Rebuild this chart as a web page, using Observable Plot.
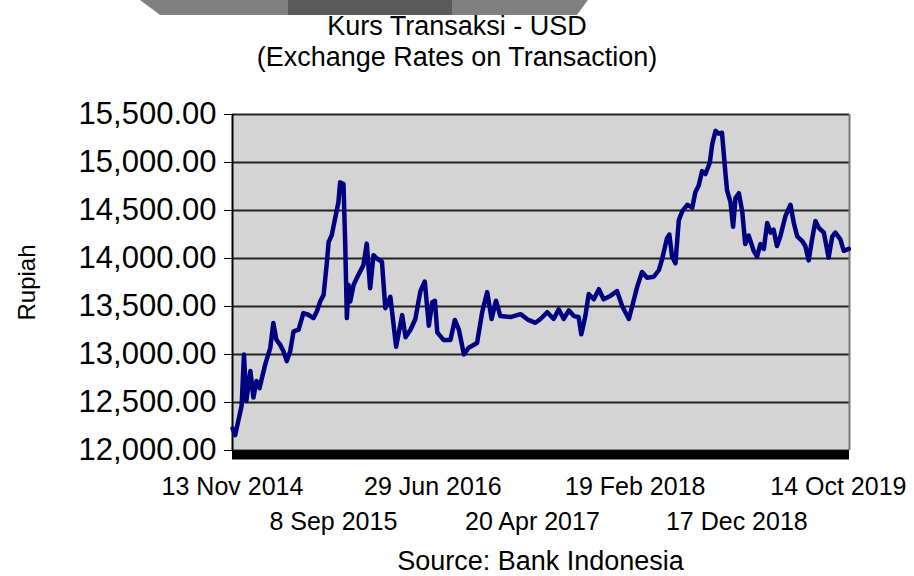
<!DOCTYPE html>
<html><head><meta charset="utf-8">
<script src="https://cdn.jsdelivr.net/npm/d3@7"></script>
<script src="https://cdn.jsdelivr.net/npm/@observablehq/plot@0.6"></script>
<style>
body{margin:0;background:#fff;font-family:"Liberation Sans",Arial,sans-serif;}
#wrap{position:relative;width:914px;height:576px;overflow:hidden;background:#fff;}
.banner{position:absolute;left:140px;top:0;width:448px;height:15px;background:#808080;clip-path:polygon(0 0,100% 0,97.5% 100%,4.5% 100%);}
.banner .mid{position:absolute;left:148px;top:0;width:164px;height:15px;background:#5a5a5a;}
.t{position:absolute;left:0;width:914px;text-align:center;font-size:27px;line-height:30px;color:#000;white-space:nowrap;}
#chart{position:absolute;left:0;top:80px;}
</style></head>
<body>
<div id="wrap">
  <div class="banner"><div class="mid"></div></div>
  <div class="t" style="top:11px">Kurs Transaksi - USD</div>
  <div class="t" style="top:42px">(Exchange Rates on Transaction)</div>
  <div id="chart"></div>
  <div class="t" style="top:546px;left:232px;width:617px">Source: Bank Indonesia</div>
</div>
<script>
const dates = [
"2014-11-13","2014-11-21","2014-12-10","2014-12-17","2014-12-24","2015-01-05","2015-01-14","2015-01-23","2015-02-01","2015-02-18",
"2015-03-05","2015-03-14","2015-03-23","2015-04-03","2015-04-13","2015-04-23","2015-05-03","2015-05-13","2015-05-28","2015-06-11",
"2015-06-26","2015-07-11","2015-07-21","2015-07-31","2015-08-10","2015-08-20","2015-08-25","2015-09-03","2015-09-13","2015-09-23",
"2015-09-28","2015-10-08","2015-10-13","2015-10-18","2015-10-23","2015-10-28","2015-11-07","2015-11-16","2015-11-26","2015-12-06",
"2015-12-16","2015-12-26","2016-01-05","2016-01-15","2016-01-30","2016-02-09","2016-02-24","2016-03-12","2016-03-30","2016-04-09",
"2016-04-24","2016-05-08","2016-05-23","2016-06-05","2016-06-17","2016-06-27","2016-07-05","2016-07-12","2016-07-31","2016-08-20",
"2016-09-02","2016-09-14","2016-09-29","2016-10-13","2016-11-07","2016-11-22","2016-12-07","2016-12-20","2017-01-02","2017-01-15",
"2017-02-14","2017-03-16","2017-04-08","2017-04-29","2017-05-14","2017-06-03","2017-06-22","2017-07-07","2017-07-22","2017-08-06",
"2017-08-21","2017-09-04","2017-09-12","2017-09-24","2017-10-04","2017-10-19","2017-11-03","2017-11-17","2017-12-07","2017-12-27",
"2018-01-11","2018-01-31","2018-02-14","2018-02-25","2018-03-11","2018-03-26","2018-04-15","2018-04-30","2018-05-10","2018-05-24",
"2018-05-31","2018-06-08","2018-06-18","2018-06-28","2018-07-08","2018-07-23","2018-08-07","2018-08-16","2018-08-26","2018-09-05",
"2018-09-15","2018-09-28","2018-10-05","2018-10-15","2018-10-24","2018-11-03","2018-11-13","2018-11-18","2018-11-28","2018-12-06",
"2018-12-13","2018-12-23","2019-01-02","2019-01-11","2019-01-21","2019-02-05","2019-02-15","2019-02-25","2019-03-07","2019-03-17",
"2019-03-27","2019-04-05","2019-04-15","2019-04-25","2019-05-10","2019-05-25","2019-06-04","2019-06-14","2019-06-29","2019-07-08",
"2019-07-18","2019-07-28","2019-08-07","2019-08-17","2019-09-01","2019-09-15","2019-09-26","2019-10-05","2019-10-20","2019-10-30",
"2019-11-14"
];
const rates = [
12230,12160,12466,13000,12517,12828,12552,12724,12650,12897,
13069,13328,13155,13103,13034,12931,13034,13241,13259,13431,
13414,13379,13448,13552,13621,13966,14172,14241,14414,14586,
14793,14776,14172,13379,13724,13552,13724,13793,13862,13931,
14155,13690,14034,14000,13966,13483,13600,13080,13410,13180,
13260,13370,13660,13760,13300,13545,13560,13230,13150,13150,
13360,13260,13000,13070,13120,13440,13650,13370,13560,13400,
13390,13420,13360,13330,13370,13440,13370,13470,13370,13460,
13400,13390,13210,13400,13630,13575,13680,13575,13610,13660,
13505,13370,13560,13710,13860,13800,13810,13880,14000,14210,
14250,14020,13950,14400,14490,14560,14530,14690,14760,14910,
14880,15000,15190,15330,15300,15310,14900,14710,14590,14330,
14630,14680,14490,14150,14240,14080,14020,14150,14100,14370,
14270,14300,14130,14230,14440,14560,14370,14230,14180,14130,
13980,14200,14390,14320,14270,14010,14230,14270,14200,14080,
14100
];
const yTicks = [12000,12500,13000,13500,14000,14500,15000,15500];
const xTicksRow1 = ["2014-11-13","2016-06-29","2018-02-19","2019-10-14"];
const xTicksRow2 = ["2015-09-08","2017-04-20","2018-12-17"];
const xDomain = ["2014-11-13","2019-11-16"];
const yDomain = [12000,15500];
const yLabel = "Rupiah";

const parse = d3.utcParse("%Y-%m-%d");
const data = dates.map((d,i)=>({date: parse(d), rate: rates[i]}));
const fmtY = d3.format(",.2f");
const fmtX = d3.utcFormat("%-d %b %Y");
const xd = xDomain.map(parse);

const chart = Plot.plot({
  width: 914, height: 460,
  marginLeft: 232, marginRight: 65, marginTop: 34, marginBottom: 90,
  style: {fontFamily: "'Liberation Sans', Arial, sans-serif", color: "#000", background: "transparent", overflow: "visible"},
  x: {type: "utc", domain: xd, label: null},
  y: {domain: yDomain, label: null},
  marks: [
    Plot.frame({fill: "#d4d4d4", stroke: null}),
    Plot.ruleY(yTicks, {stroke: "#222", strokeWidth: 2}),
    Plot.ruleX([xd[1]], {stroke: "#777", strokeWidth: 2}),
    Plot.ruleX([xd[0]], {stroke: "#000", strokeWidth: 2, y1: yDomain[0], y2: yDomain[1]}),
    Plot.ruleY([yDomain[0]], {stroke: "#000", strokeWidth: 9, dy: 4.5}),
    Plot.lineY(data, {x: "date", y: "rate", stroke: "#000080", strokeWidth: 4.5, strokeLinejoin: "round"}),
    Plot.axisY(yTicks, {tickFormat: fmtY, tickSize: 8, tickPadding: 8, fontSize: 31, label: null}),
    Plot.axisX(xTicksRow1.map(parse), {tickSize: 0, tickPadding: 27, tickFormat: fmtX, fontSize: 25, label: null}),
    Plot.axisX(xTicksRow2.map(parse), {tickSize: 0, tickPadding: 62, tickFormat: fmtX, fontSize: 25, label: null}),
    Plot.text([yLabel], {frameAnchor: "left", text: d => d, rotate: -90, dx: -205, textAnchor: "middle", fontSize: 24, fill: "#000"})
  ]
});
document.getElementById("chart").appendChild(chart);
</script>
</body></html>
